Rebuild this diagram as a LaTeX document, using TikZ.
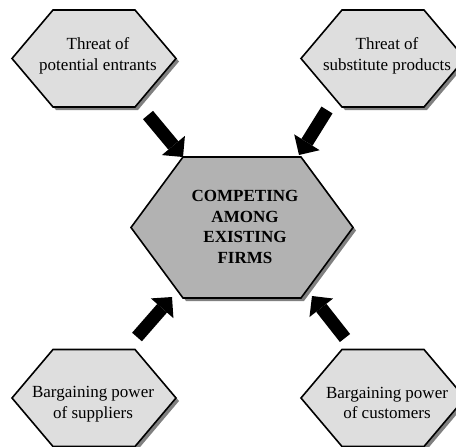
\documentclass[tikz,border=0pt]{standalone}
\usepackage{fontspec}
\setmainfont{Liberation Serif}
\usetikzlibrary{arrows.meta}
\definecolor{lightfill}{gray}{0.87}
\definecolor{darkfill}{gray}{0.70}
\definecolor{shadowgray}{gray}{0.5}
\tikzset{
  hexside/.style={draw=black, line width=1.6pt, line join=miter},
  hexshadow/.style={fill=shadowgray},
  hexlabel/.style={font=\fontsize{17}{20.5}\selectfont, align=center, inner sep=0pt},
  bigarrow/.style={line width=13pt, -{Triangle[width=30pt,length=15pt,line width=0pt]}},
}
% cx cy halfwidth halfheight inset
\newcommand{\hexpathof}[5]{({#1-#3},{#2}) -- ({#1-#3+#5},{#2-#4}) -- ({#1+#3-#5},{#2-#4}) -- ({#1+#3},{#2}) -- ({#1+#3-#5},{#2+#4}) -- ({#1-#3+#5},{#2+#4}) -- cycle}
\newcommand{\hexshape}[6]{%
  \fill[hexshadow, shift={(3,3)}] \hexpathof{#1}{#2}{#3}{#4}{#5};
  \filldraw[hexside, fill=#6] \hexpathof{#1}{#2}{#3}{#4}{#5};
}
\begin{document}
\begin{tikzpicture}[x=1pt,y=-1pt]
\useasboundingbox (0,0) rectangle (456,447);
% hexagons
\hexshape{94}{58.5}{82}{48.5}{41}{lightfill}
\hexshape{383}{58.5}{82}{48.5}{41}{lightfill}
\hexshape{94}{398}{82}{48.5}{41}{lightfill}
\hexshape{383}{398}{82}{48.5}{41}{lightfill}
\hexshape{242}{227.5}{111}{70.5}{52}{darkfill}
% labels
\node[hexlabel] (entrants) at (98,56) {Threat of\\potential entrants};
\node[hexlabel] (substitutes) at (387,56) {Threat of\\substitute products};
\node[hexlabel] (suppliers) at (93,404) {Bargaining power\\of suppliers};
\node[hexlabel] (customers) at (387,403) {Bargaining power\\of customers};
\node[hexlabel, font=\fontsize{17}{20.5}\selectfont\bfseries] (core) at (245,227) {COMPETING\\AMONG\\EXISTING\\FIRMS};
% arrows
\coordinate (tlTail) at (148,115);
\coordinate (tlTip) at (183,157);
\coordinate (trTail) at (327,110);
\coordinate (trTip) at (299,155);
\coordinate (blTail) at (137,337);
\coordinate (blTip) at (172,297);
\coordinate (brTail) at (345,338);
\coordinate (brTip) at (312,296);
\draw[bigarrow] (tlTail) -- (tlTip);
\draw[bigarrow] (trTail) -- (trTip);
\draw[bigarrow] (blTail) -- (blTip);
\draw[bigarrow] (brTail) -- (brTip);
\end{tikzpicture}
\end{document}
